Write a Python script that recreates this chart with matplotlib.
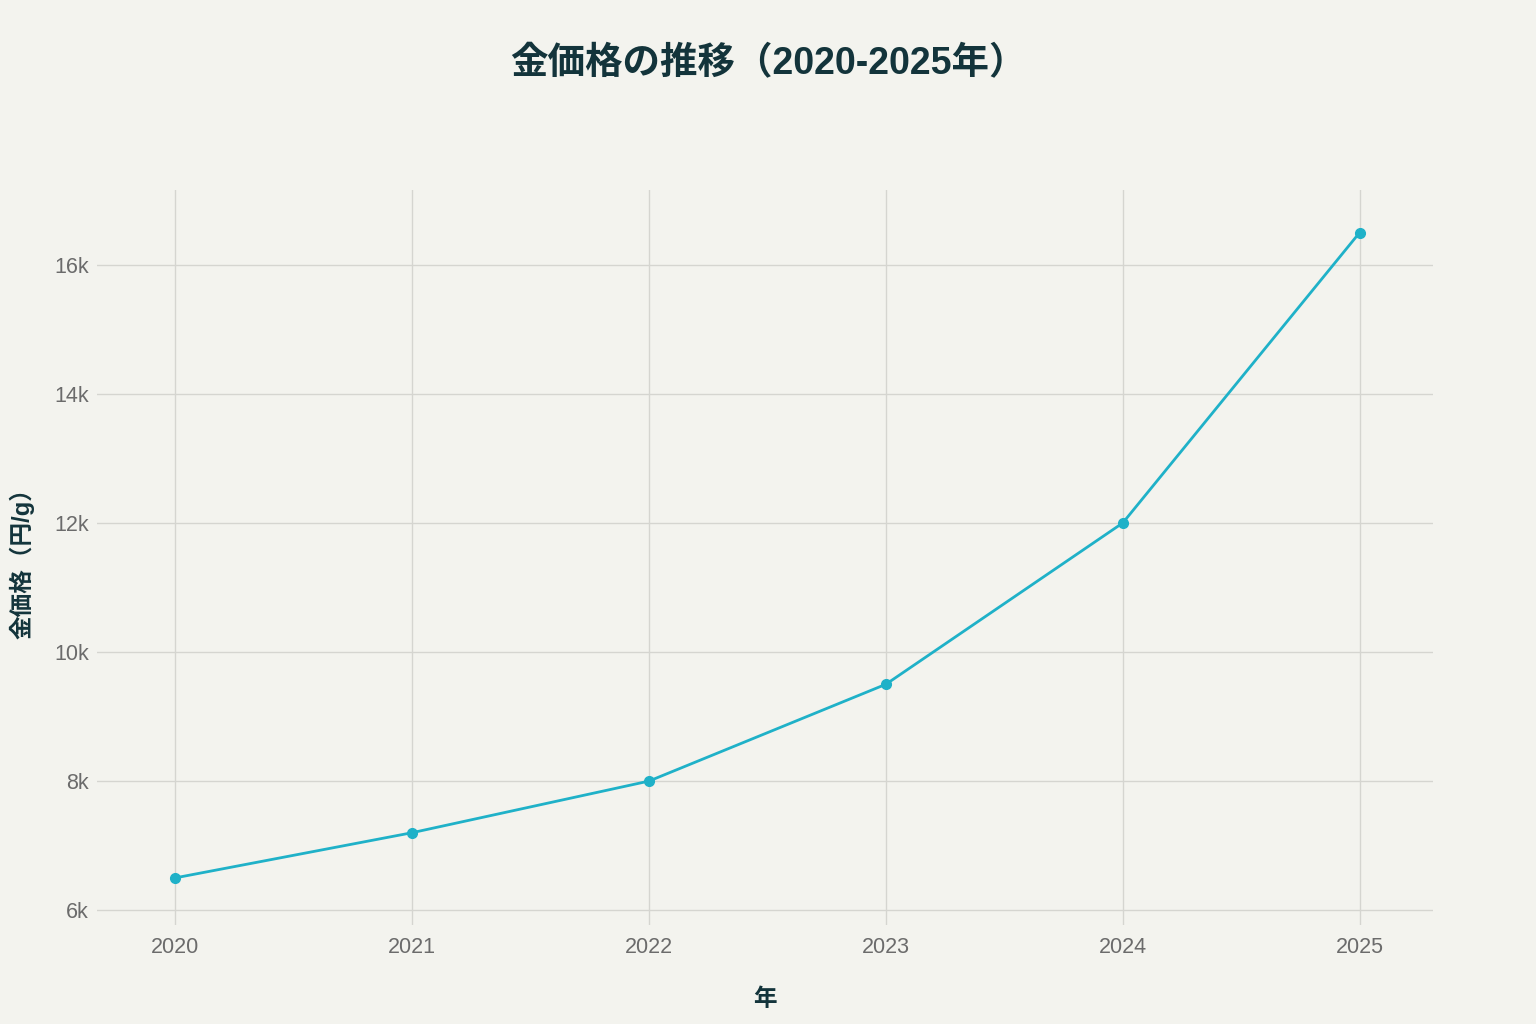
import matplotlib.pyplot as plt
from matplotlib.ticker import FuncFormatter

plt.rcParams['font.family'] = ['Liberation Sans', 'Noto Sans CJK JP', 'DejaVu Sans']

years = [2020, 2021, 2022, 2023, 2024, 2025]
prices = [6500, 7200, 8000, 9500, 12000, 16500]
y_ticks = [6000, 8000, 10000, 12000, 14000, 16000]

bg = '#f3f3ee'
line_color = '#1fb1c8'
text_dark = '#13343b'
tick_gray = '#6b6b6b'

fig = plt.figure(figsize=(15.36, 10.24), dpi=100, facecolor=bg)
ax = fig.add_axes([0.0632, 0.0967, 0.8698, 0.7178])
ax.set_facecolor(bg)

ax.plot(years, prices, color=line_color, linewidth=2, marker='o', markersize=7,
        zorder=3)

ax.set_xlim(2019.67, 2025.31)
ax.set_ylim(5770, 17160)
ax.set_xticks(years)
ax.set_yticks(y_ticks)
ax.yaxis.set_major_formatter(FuncFormatter(lambda v, p: '%dk' % (v / 1000)))

ax.grid(True, color='#d5d5d0', linewidth=1)
ax.set_axisbelow(True)
for s in ax.spines.values():
    s.set_visible(False)
ax.tick_params(length=0, labelsize=15.5, colors=tick_gray)
ax.tick_params(axis='x', pad=9)
ax.tick_params(axis='y', pad=6)

ax.set_xlabel('年', fontsize=17, fontweight='bold', color=text_dark, labelpad=21)
ax.set_ylabel('金価格（円/g）', fontsize=17, fontweight='bold', color=text_dark, labelpad=14)

fig.text(0.5, 0.937, '金価格の推移（2020-2025年）', ha='center', va='center',
         fontsize=27, fontweight='bold', color=text_dark)

fig.savefig('out.png', dpi=100, facecolor=bg)
